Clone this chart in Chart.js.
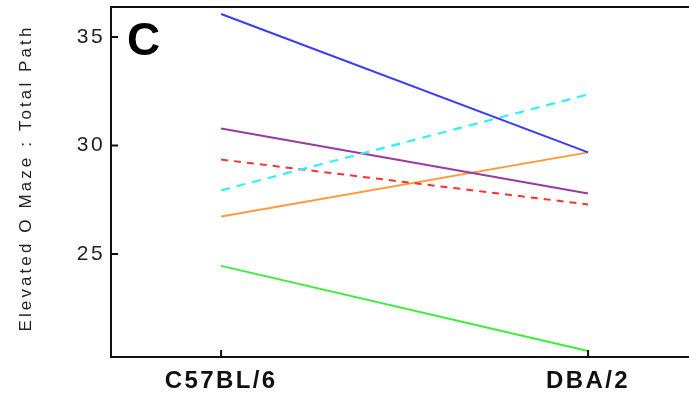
<!DOCTYPE html>
<html>
<head>
<meta charset="utf-8">
<script src="https://cdn.jsdelivr.net/npm/chart.js@4/dist/chart.umd.min.js"></script>
<style>
  html, body { margin: 0; padding: 0; background: #fff; }
  #wrap { width: 689px; height: 394px; }
</style>
</head>
<body>
<div id="wrap"><canvas id="myChart" width="689" height="394"></canvas></div>
<script>
var strains = ['C57BL/6', 'DBA/2'];
var yTicks = [25, 30, 35];
var yTitle = 'Elevated O Maze : Total Path';

var blueLine = [36.06, 29.68];
var cyanLine = [27.93, 32.35];
var purpleLine = [30.78, 27.79];
var redLine = [29.35, 27.28];
var orangeLine = [26.73, 29.68];
var greenLine = [24.45, 20.53];

function pts(vals) {
    return vals.map(function (v, i) { return { x: i, y: v }; });
}

// inner tick marks, top border, y title and panel letter
var extras = {
    id: 'extras',
    beforeDraw: function (chart) {
        chart.ctx.letterSpacing = '2.4px';
    },
    afterDraw: function (chart) {
        var c = chart.ctx, a = chart.chartArea;
        var xs = chart.scales.x, ys = chart.scales.y;
        c.save();
        c.letterSpacing = '0px';
        c.strokeStyle = '#111';
        c.lineWidth = 2;
        c.beginPath();
        c.moveTo(a.left - 1, a.top);
        c.lineTo(a.right, a.top);
        yTicks.forEach(function (t) {
            var y = ys.getPixelForValue(t);
            c.moveTo(a.left, y);
            c.lineTo(a.left + 7, y);
        });
        strains.forEach(function (s, i) {
            var x = xs.getPixelForValue(i);
            c.moveTo(x, a.bottom);
            c.lineTo(x, a.bottom - 7);
        });
        c.stroke();

        c.fillStyle = '#000';
        c.font = 'bold 46px "Liberation Sans", Arial, sans-serif';
        c.textBaseline = 'top';
        c.fillText('C', a.left + 16, a.top + 12);

        c.translate(26, 178);
        c.rotate(-Math.PI / 2);
        c.fillStyle = '#222';
        c.font = '17px "Liberation Sans", Arial, sans-serif';
        c.letterSpacing = '3.1px';
        c.textAlign = 'center';
        c.textBaseline = 'middle';
        c.fillText(yTitle, 0, 0);
        c.restore();
        c.letterSpacing = '0px';
    }
};

var ctx = document.getElementById('myChart');
var myChart = new Chart(ctx, {
    type: 'line',
    data: {
        datasets: [
            { data: pts(blueLine), borderColor: '#3a3aff', borderWidth: 2 },
            { data: pts(cyanLine), borderColor: '#2ef0ff', borderWidth: 2.2, borderDash: [9, 7] },
            { data: pts(purpleLine), borderColor: '#9a3aa0', borderWidth: 2 },
            { data: pts(redLine), borderColor: '#ff3030', borderWidth: 2, borderDash: [7, 6] },
            { data: pts(orangeLine), borderColor: '#ff9a3a', borderWidth: 2 },
            { data: pts(greenLine), borderColor: '#3aee3a', borderWidth: 2 }
        ]
    },
    options: {
        responsive: false,
        animation: false,
        layout: { padding: { top: 7, right: 0, left: 0, bottom: 0 } },
        elements: { point: { radius: 0 }, line: { tension: 0 } },
        plugins: { legend: { display: false }, tooltip: { enabled: false } },
        scales: {
            x: {
                type: 'linear',
                min: -0.3,
                max: 1.275,
                afterBuildTicks: function (s) { s.ticks = [{ value: 0 }, { value: 1 }]; },
                afterFit: function (s) { s.height = 37; s.paddingLeft = 0; s.paddingRight = 0; },
                grid: { display: false, drawTicks: false },
                border: { display: true, color: '#111', width: 2 },
                ticks: {
                    autoSkip: false,
                    maxRotation: 0,
                    padding: 10,
                    color: '#111',
                    font: { family: '"Liberation Sans", Arial, sans-serif', size: 24, weight: 'bold' },
                    callback: function (v) { return strains[v]; }
                }
            },
            y: {
                min: 20.25,
                max: 36.38,
                afterBuildTicks: function (s) { s.ticks = yTicks.map(function (v) { return { value: v }; }); },
                afterFit: function (s) { s.width = 111; s.paddingTop = 0; s.paddingBottom = 0; },
                grid: { display: false, drawTicks: false },
                border: { display: true, color: '#111', width: 2 },
                ticks: {
                    padding: 6,
                    color: '#222',
                    font: { family: '"Liberation Sans", Arial, sans-serif', size: 21 }
                }
            }
        }
    },
    plugins: [extras]
});
</script>
</body>
</html>
